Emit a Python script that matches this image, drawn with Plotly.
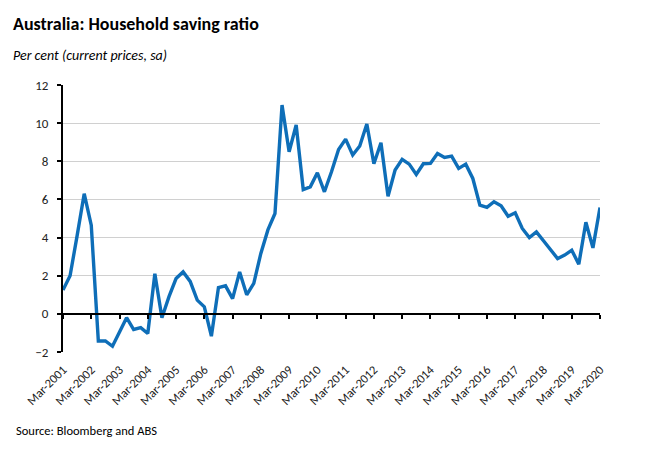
import plotly.graph_objects as go

# quarterly household saving ratio, Mar-2001 .. Mar-2020 (per cent)
saving_ratio = [
    1.25, 2.0, 4.1, 6.3, 4.65, -1.42, -1.42, -1.7, -0.95, -0.2,
    -0.82, -0.72, -1.03, 2.1, -0.2, 0.9, 1.85, 2.2, 1.7, 0.72,
    0.37, -1.17, 1.38, 1.47, 0.8, 2.2, 1.0, 1.6, 3.17, 4.4,
    5.26, 10.95, 8.5, 9.9, 6.52, 6.66, 7.4, 6.4, 7.45, 8.62,
    9.16, 8.33, 8.8, 9.95, 7.87, 8.97, 6.17, 7.54, 8.1, 7.85,
    7.31, 7.87, 7.89, 8.41, 8.2, 8.27, 7.63, 7.85, 7.1, 5.7,
    5.58, 5.88, 5.67, 5.12, 5.3, 4.48, 4.0, 4.3, 3.83, 3.34,
    2.9, 3.08, 3.34, 2.6, 4.8, 3.46, 5.58,
]
years = list(range(2001, 2021))
tick_labels = ["Mar-%d" % y for y in years]
y_ticks = [-2, 0, 2, 4, 6, 8, 10, 12]

quarter = list(range(len(saving_ratio)))
tick_pos = [4 * k for k in range(len(years))]

FONT = "Carlito, Lato, sans-serif"

# page body has an 8px margin, so the figure is a bit smaller than the window
W, H = 642, 447
pl, pr, pt, pb = 55, 50, 77, 103
pw, ph = W - pl - pr, H - pt - pb

fig = go.Figure()
fig.add_trace(go.Scatter(
    x=quarter, y=saving_ratio, mode="lines",
    line=dict(color="#0E6EB8", width=3.4),
    hoverinfo="skip", showlegend=False,
))
# dummy trace so the zero-line axis with tick marks gets drawn
fig.add_trace(go.Scatter(
    x=[0], y=[0], xaxis="x2", mode="markers",
    marker=dict(opacity=0), hoverinfo="skip", showlegend=False,
))

fig.update_layout(
    width=W, height=H,
    margin=dict(l=pl, r=pr, t=pt, b=pb),
    paper_bgcolor="white", plot_bgcolor="white",
    font=dict(family=FONT, size=12, color="#222"),
    xaxis=dict(
        range=[0, 76], tickvals=tick_pos, ticktext=tick_labels,
        tickangle=-45, showgrid=False, zeroline=False, showline=False,
        ticks="", ticklabelstandoff=7, tickfont=dict(size=12.5, color="#222"),
    ),
    xaxis2=dict(
        range=[0, 76], overlaying="x", anchor="free", position=2 / 14,
        tickvals=tick_pos, showticklabels=False, showgrid=False,
        zeroline=False, showline=True, linecolor="black", linewidth=2,
        ticks="outside", ticklen=4, tickwidth=2, tickcolor="black",
    ),
    yaxis=dict(
        range=[-2, 12], tickvals=y_ticks, showgrid=True,
        gridcolor="#d0d0d0", gridwidth=1, zeroline=False,
        showline=True, linecolor="black", linewidth=2,
        ticks="outside", ticklen=4, tickwidth=2, tickcolor="black",
        ticklabelstandoff=6, tickfont=dict(size=13, color="#222"),
    ),
)

# text placed in pixel terms: (text, x, y, size)
texts = [
    ("<b>Australia: Household saving ratio</b>", 3, 3, 18),
    ("<i>Per cent (current prices, sa)</i>", 3, 37, 14),
    ("Source: Bloomberg and ABS", 6, 413, 12.5),
]
for t, x, y, s in texts:
    fig.add_annotation(
        text=t, showarrow=False, xref="paper", yref="paper",
        x=(x - pl) / pw, y=(H - pb - y) / ph,
        xanchor="left", yanchor="top",
        font=dict(family=FONT, size=s, color="black"),
    )

fig.write_html("out.html")
